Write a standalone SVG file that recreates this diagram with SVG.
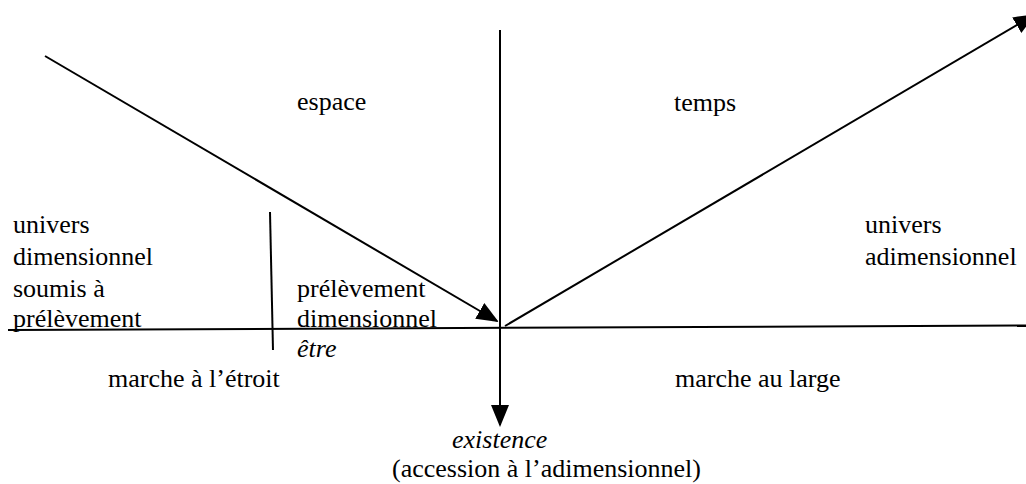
<svg xmlns="http://www.w3.org/2000/svg" width="1026" height="484" viewBox="0 0 1026 484">
  <style>
    text { font-family: 'Liberation Serif', 'DejaVu Serif', serif; font-size: 26px; fill: #000; }
    .i { font-style: italic; }
    .ln { stroke: #000; stroke-width: 2; fill: none; }
  </style>
  <defs>
    <marker id="ah" markerUnits="userSpaceOnUse" markerWidth="22" markerHeight="18" viewBox="0 0 22 18" refX="20" refY="9" orient="auto">
      <path d="M0,0 L22,9 L0,18 z" fill="#000"/>
    </marker>
  </defs>
  <rect width="1026" height="484" fill="#fff"/>
  <g id="connectors">
    <line class="ln" x1="8" y1="330" x2="1026" y2="325.5"/>
    <line class="ln" x1="270" y1="212" x2="273" y2="350"/>
    <line class="ln" x1="500" y1="30" x2="500" y2="425" marker-end="url(#ah)"/>
    <line class="ln" x1="45" y1="56" x2="497" y2="321" marker-end="url(#ah)"/>
    <line class="ln" x1="505" y1="326" x2="1034" y2="15" marker-end="url(#ah)"/>
  </g>
  <g id="espace"><text font-family="Liberation Serif, serif" x="297" y="110">espace</text></g>
  <g id="temps"><text font-family="Liberation Serif, serif" x="674" y="111">temps</text></g>
  <g id="univers-dimensionnel" font-family="Liberation Serif, serif">
    <text x="13" y="233">univers</text>
    <text x="13" y="265">dimensionnel</text>
    <text x="13" y="297">soumis à</text>
    <text x="13" y="327">prélèvement</text>
  </g>
  <g id="prelevement-dimensionnel" font-family="Liberation Serif, serif">
    <text x="297" y="297">prélèvement</text>
    <text x="297" y="327">dimensionnel</text>
  </g>
  <g id="etre"><text class="i" font-family="Liberation Serif, serif" x="297" y="357">être</text></g>
  <g id="univers-adimensionnel" font-family="Liberation Serif, serif">
    <text x="865" y="233">univers</text>
    <text x="865" y="265">adimensionnel</text>
  </g>
  <g id="marche-etroit"><text font-family="Liberation Serif, serif" x="108" y="387">marche à l’étroit</text></g>
  <g id="marche-large"><text font-family="Liberation Serif, serif" x="675" y="387">marche au large</text></g>
  <g id="existence" font-family="Liberation Serif, serif">
    <text class="i" x="452" y="448">existence</text>
    <text x="392" y="477">(accession à l’adimensionnel)</text>
  </g>
</svg>
